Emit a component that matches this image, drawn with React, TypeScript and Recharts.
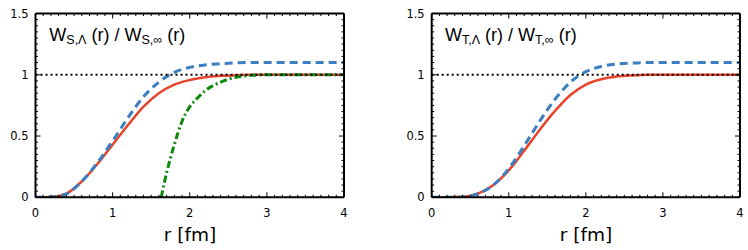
import { LineChart, Line, XAxis, YAxis } from 'recharts'

// r grid (fm) shared by the smooth curves
const rGrid = [0, 0.2, 0.4, 0.6, 0.8, 1.0, 1.2, 1.4, 1.6, 1.8, 2.0, 2.2, 2.4, 2.6, 2.8, 3.0, 3.2, 3.4, 3.6, 3.8, 4.0]

// left panel: W_S ratio
const sSolid = [0, 0.003, 0.03, 0.13, 0.27, 0.43, 0.59, 0.74, 0.85, 0.92, 0.957, 0.98, 0.991, 0.997, 1.0, 1.0, 1.0, 1.0, 1.0, 1.0, 1.0]
const sDashed = [0, 0.002, 0.028, 0.13, 0.28, 0.46, 0.65, 0.82, 0.94, 1.02, 1.06, 1.08, 1.09, 1.097, 1.1, 1.1, 1.1, 1.1, 1.1, 1.1, 1.1]
const rGreen = [1.63, 1.7, 1.8, 1.9, 2.0, 2.1, 2.2, 2.4, 2.6, 2.8, 3.0, 3.5, 4.0]
const sDashDot = [0, 0.2, 0.43, 0.62, 0.74, 0.81, 0.87, 0.94, 0.98, 0.995, 1.0, 1.0, 1.0]

// right panel: W_T ratio
const tSolid = [0, 0.0, 0.004, 0.03, 0.1, 0.22, 0.38, 0.55, 0.705, 0.835, 0.92, 0.963, 0.985, 0.995, 1.0, 1.0, 1.0, 1.0, 1.0, 1.0, 1.0]
const tDashed = [0, 0.0, 0.003, 0.03, 0.1, 0.235, 0.42, 0.62, 0.8, 0.94, 1.025, 1.068, 1.088, 1.096, 1.1, 1.1, 1.1, 1.1, 1.1, 1.1, 1.1]

// dotted reference at ratio = 1
const rUnity = [0, 4]
const unity = [1, 1]

const xLabels = ['0', '1', '2', '3', '4']
const yLabels = ['0', '0.5', '1', '1.5']

const xTicks = Array.from({ length: 41 }, (_, i) => i / 10)
const yTicks = Array.from({ length: 31 }, (_, i) => i / 20)

const RED = '#e8432b'
const BLUE = '#3b7fc0'
const GREEN = '#0a8a0a'
const FONT = 'DejaVu Sans, sans-serif'

const toPts = (xs: number[], ys: number[]) => xs.map((r, i) => ({ r, v: ys[i] }))

const isMajor = (v: number, step: number) => Math.abs(v / step - Math.round(v / step)) < 1e-6

const BottomTick = (p: any) => {
  const v = p.payload.value
  const major = isMajor(v, 1)
  return (
    <g>
      <line x1={p.x} x2={p.x} y1={p.y} y2={p.y - (major ? 5 : 2.5)} stroke="#000" strokeWidth={1} />
      {major && (
        <text x={p.x} y={p.y + 19.5} textAnchor="middle" fontSize={11.5} fontFamily={FONT} fill="#000">
          {xLabels[Math.round(v)]}
        </text>
      )}
    </g>
  )
}

const TopTick = (p: any) => {
  const major = isMajor(p.payload.value, 1)
  return <line x1={p.x} x2={p.x} y1={p.y} y2={p.y + (major ? 5 : 2.5)} stroke="#000" strokeWidth={1} />
}

const LeftTick = (p: any) => {
  const v = p.payload.value
  const major = isMajor(v, 0.5)
  return (
    <g>
      <line x1={p.x} x2={p.x + (major ? 5 : 2.5)} y1={p.y} y2={p.y} stroke="#000" strokeWidth={1} />
      {major && (
        <text x={p.x - 7} y={p.y + 4} textAnchor="end" fontSize={11.5} fontFamily={FONT} fill="#000">
          {yLabels[Math.round(v * 2)]}
        </text>
      )}
    </g>
  )
}

const RightTick = (p: any) => {
  const major = isMajor(p.payload.value, 0.5)
  return <line x1={p.x} x2={p.x - (major ? 5 : 2.5)} y1={p.y} y2={p.y} stroke="#000" strokeWidth={1} />
}

const axisLine = { stroke: '#000', strokeWidth: 2 }

function Panel({ left, right, solid, dashed, dashDot }: { left: number; right: number; solid: number[]; dashed: number[]; dashDot?: { r: number; v: number }[] }) {
  return (
    <LineChart width={374} height={250} margin={{ top: 0, right: 0, bottom: 0, left: 0 }}>
      <XAxis xAxisId="b" dataKey="r" type="number" domain={[0, 4]} ticks={xTicks} interval={0} orientation="bottom" height={52.7} tickSize={0} tickMargin={0} tickLine={false} axisLine={axisLine} tick={BottomTick} allowDataOverflow />
      <XAxis xAxisId="t" dataKey="r" type="number" domain={[0, 4]} ticks={xTicks} interval={0} orientation="top" height={13.5} tickSize={0} tickMargin={0} tickLine={false} axisLine={axisLine} tick={TopTick} allowDataOverflow />
      <YAxis yAxisId="l" type="number" domain={[0, 1.5]} ticks={yTicks} interval={0} orientation="left" width={left} tickSize={0} tickMargin={0} tickLine={false} axisLine={axisLine} tick={LeftTick} allowDataOverflow />
      <YAxis yAxisId="r" type="number" domain={[0, 1.5]} ticks={yTicks} interval={0} orientation="right" width={right} tickSize={0} tickMargin={0} tickLine={false} axisLine={axisLine} tick={RightTick} allowDataOverflow />
      <Line xAxisId="b" yAxisId="l" data={toPts(rGrid, solid)} dataKey="v" type="monotone" stroke={RED} strokeWidth={2.5} dot={false} isAnimationActive={false} />
      <Line xAxisId="b" yAxisId="l" data={toPts(rGrid, dashed)} dataKey="v" type="monotone" stroke={BLUE} strokeWidth={3} strokeDasharray="8 5" dot={false} isAnimationActive={false} />
      {dashDot && (
        <Line xAxisId="b" yAxisId="l" data={dashDot} dataKey="v" type="monotone" stroke={GREEN} strokeWidth={3} strokeDasharray="7 3 2 3" dot={false} isAnimationActive={false} />
      )}
      <Line xAxisId="b" yAxisId="l" data={toPts(rUnity, unity)} dataKey="v" type="linear" stroke="#000" strokeWidth={2.2} strokeDasharray="2 3" dot={false} isAnimationActive={false} />
    </LineChart>
  )
}

function Title({ x, sub }: { x: number; sub: string }) {
  return (
    <text x={x} y={40.5} fontSize={18} fontFamily="Liberation Sans, Arial, sans-serif" fill="#000">
      W<tspan fontSize={12.5} dy={3.5}>{sub},Λ</tspan>
      <tspan fontSize={18} dy={-3.5}> (r) / W</tspan>
      <tspan fontSize={12.5} dy={3.5}>{sub},∞</tspan>
      <tspan fontSize={18} dy={-3.5}> (r)</tspan>
    </text>
  )
}

export default function App() {
  return (
    <div style={{ position: 'absolute', left: 0, top: 0, width: 748, height: 250, background: '#fff' }}>
      <div style={{ position: 'absolute', left: 0, top: 0 }}>
        <Panel left={35.5} right={30} solid={sSolid} dashed={sDashed} dashDot={toPts(rGreen, sDashDot)} />
      </div>
      <div style={{ position: 'absolute', left: 374, top: 0 }}>
        <Panel left={57.7} right={8} solid={tSolid} dashed={tDashed} />
      </div>
      <svg width={748} height={250} style={{ position: 'absolute', left: 0, top: 0, pointerEvents: 'none' }}>
        <Title x={49.3} sub="S" />
        <Title x={445} sub="T" />
        <text x={190} y={241} textAnchor="middle" fontSize={18.5} fontFamily={FONT} fill="#000">r [fm]</text>
        <text x={586} y={241} textAnchor="middle" fontSize={18.5} fontFamily={FONT} fill="#000">r [fm]</text>
      </svg>
    </div>
  )
}
